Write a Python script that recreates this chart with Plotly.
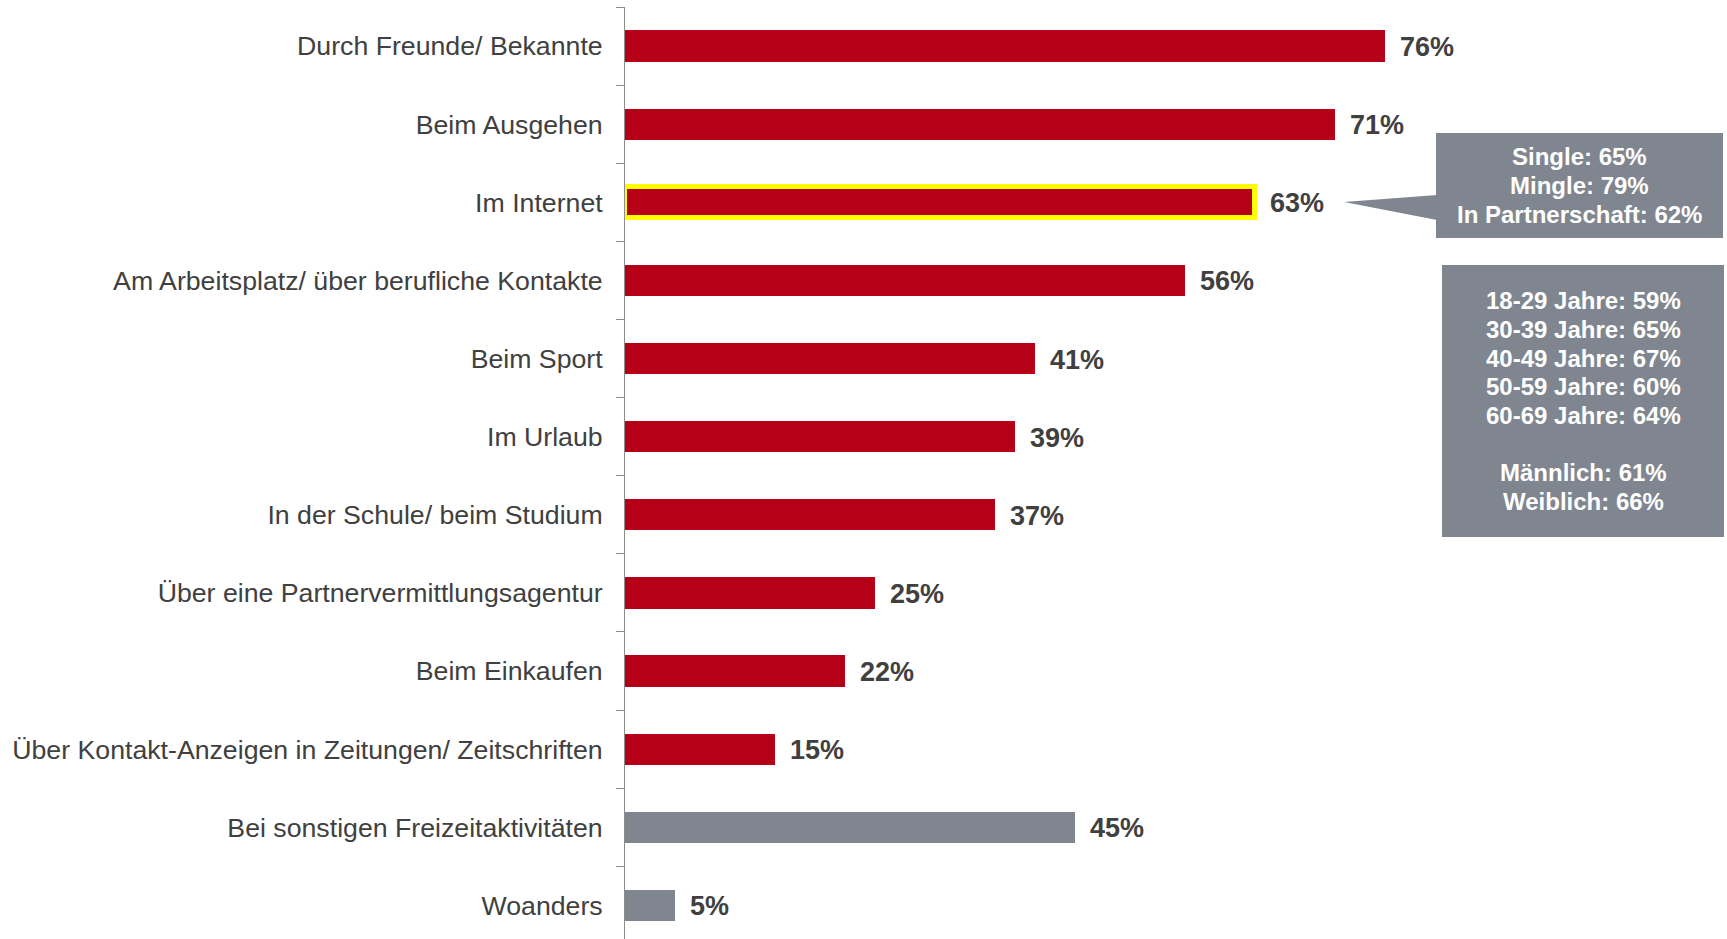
import plotly.graph_objects as go

categories = [
    "Durch Freunde/ Bekannte",
    "Beim Ausgehen",
    "Im Internet",
    "Am Arbeitsplatz/ über berufliche Kontakte",
    "Beim Sport",
    "Im Urlaub",
    "In der Schule/ beim Studium",
    "Über eine Partnervermittlungsagentur",
    "Beim Einkaufen",
    "Über Kontakt-Anzeigen in Zeitungen/ Zeitschriften",
    "Bei sonstigen Freizeitaktivitäten",
    "Woanders",
]
values = [76, 71, 63, 56, 41, 39, 37, 25, 22, 15, 45, 5]
groups = ["main"] * 10 + ["other"] * 2
highlight = "Im Internet"

callout_status = ["Single: 65%", "Mingle: 79%", "In Partnerschaft: 62%"]
callout_age = ["18-29 Jahre: 59%", "30-39 Jahre: 65%", "40-49 Jahre: 67%",
               "50-59 Jahre: 60%", "60-69 Jahre: 64%"]
callout_gender = ["Männlich: 61%", "Weiblich: 66%"]

RED = "#B50018"
GRAY = "#80868F"
TEXT = "#404040"
FONT = "Liberation Sans, Arial, sans-serif"

W, H = 1727, 939
ML, MR, MT, MB = 625, 0, 7, 0
PW, PH = W - ML - MR, H - MT - MB


def px(x):
    return (x - ML) / PW


def py(y):
    return 1 - (y - MT) / PH


bar_colors = [RED if g == "main" else GRAY for g in groups]
line_colors = ["#FFFF00" if c == highlight else "rgba(0,0,0,0)" for c in categories]
line_widths = [5 if c == highlight else 0 for c in categories]

fig = go.Figure()
fig.add_trace(go.Bar(
    x=values, y=categories, orientation="h", width=0.4,
    marker=dict(color=bar_colors, line=dict(color=line_colors, width=line_widths)),
    hoverinfo="skip",
))

annotations = []
for c, v in zip(categories, values):
    annotations.append(dict(
        x=v, y=c, xref="x", yref="y", text=f"<b>{v}%</b>", showarrow=False,
        xanchor="left", yanchor="middle", xshift=13, yshift=-1,
        font=dict(family=FONT, size=27, color=TEXT),
    ))

shapes = []
# callout 1 (with pointer)
b1 = (1436, 133, 1723, 238)
shapes.append(dict(type="rect", xref="paper", yref="paper",
                   x0=px(b1[0]), x1=px(b1[2]), y0=py(b1[3]), y1=py(b1[1]),
                   fillcolor=GRAY, line=dict(width=0), layer="above"))
path = (f"M {px(1437)} {py(195)} L {px(1344)} {py(202)} L {px(1437)} {py(220)} Z")
shapes.append(dict(type="path", xref="paper", yref="paper", path=path,
                   fillcolor=GRAY, line=dict(width=0), layer="above"))
# callout 2
b2 = (1442, 265, 1724, 537)
shapes.append(dict(type="rect", xref="paper", yref="paper",
                   x0=px(b2[0]), x1=px(b2[2]), y0=py(b2[3]), y1=py(b2[1]),
                   fillcolor=GRAY, line=dict(width=0), layer="above"))

LS = 28.6
cx1 = (b1[0] + b1[2]) / 2
cy1 = (b1[1] + b1[3]) / 2
for i, t in enumerate(callout_status):
    yy = cy1 + (i - (len(callout_status) - 1) / 2) * LS
    annotations.append(dict(x=px(cx1), y=py(yy), xref="paper", yref="paper",
                            text=f"<b>{t}</b>", showarrow=False,
                            xanchor="center", yanchor="middle",
                            font=dict(family=FONT, size=24, color="white")))

lines2 = callout_age + [""] + callout_gender
cx2 = (b2[0] + b2[2]) / 2
cy2 = (b2[1] + b2[3]) / 2
for i, t in enumerate(lines2):
    if not t:
        continue
    yy = cy2 + (i - (len(lines2) - 1) / 2) * LS
    annotations.append(dict(x=px(cx2), y=py(yy), xref="paper", yref="paper",
                            text=f"<b>{t}</b>", showarrow=False,
                            xanchor="center", yanchor="middle",
                            font=dict(family=FONT, size=24, color="white")))

fig.update_layout(
    width=W, height=H,
    margin=dict(l=ML, r=MR, t=MT, b=MB, pad=0),
    paper_bgcolor="white", plot_bgcolor="white",
    showlegend=False,
    bargap=0,
    xaxis=dict(range=[0, PW / 10.0], visible=False, fixedrange=True),
    yaxis=dict(
        type="category", categoryorder="array", categoryarray=categories,
        range=[11.43, -0.5], automargin=False,
        showline=True, linecolor="#8C8C8C", linewidth=1,
        ticks="outside", ticklen=8, tickcolor="#8C8C8C", tickwidth=1,
        tickson="boundaries", ticklabelstandoff=16,
        showgrid=False, zeroline=False,
        tickfont=dict(family=FONT, size=26.7, color=TEXT),
    ),
    annotations=annotations,
    shapes=shapes,
)

fig.write_html("out.html", config={"displayModeBar": False},
               post_script="document.body.style.margin='0px';document.body.style.overflow='hidden';")
